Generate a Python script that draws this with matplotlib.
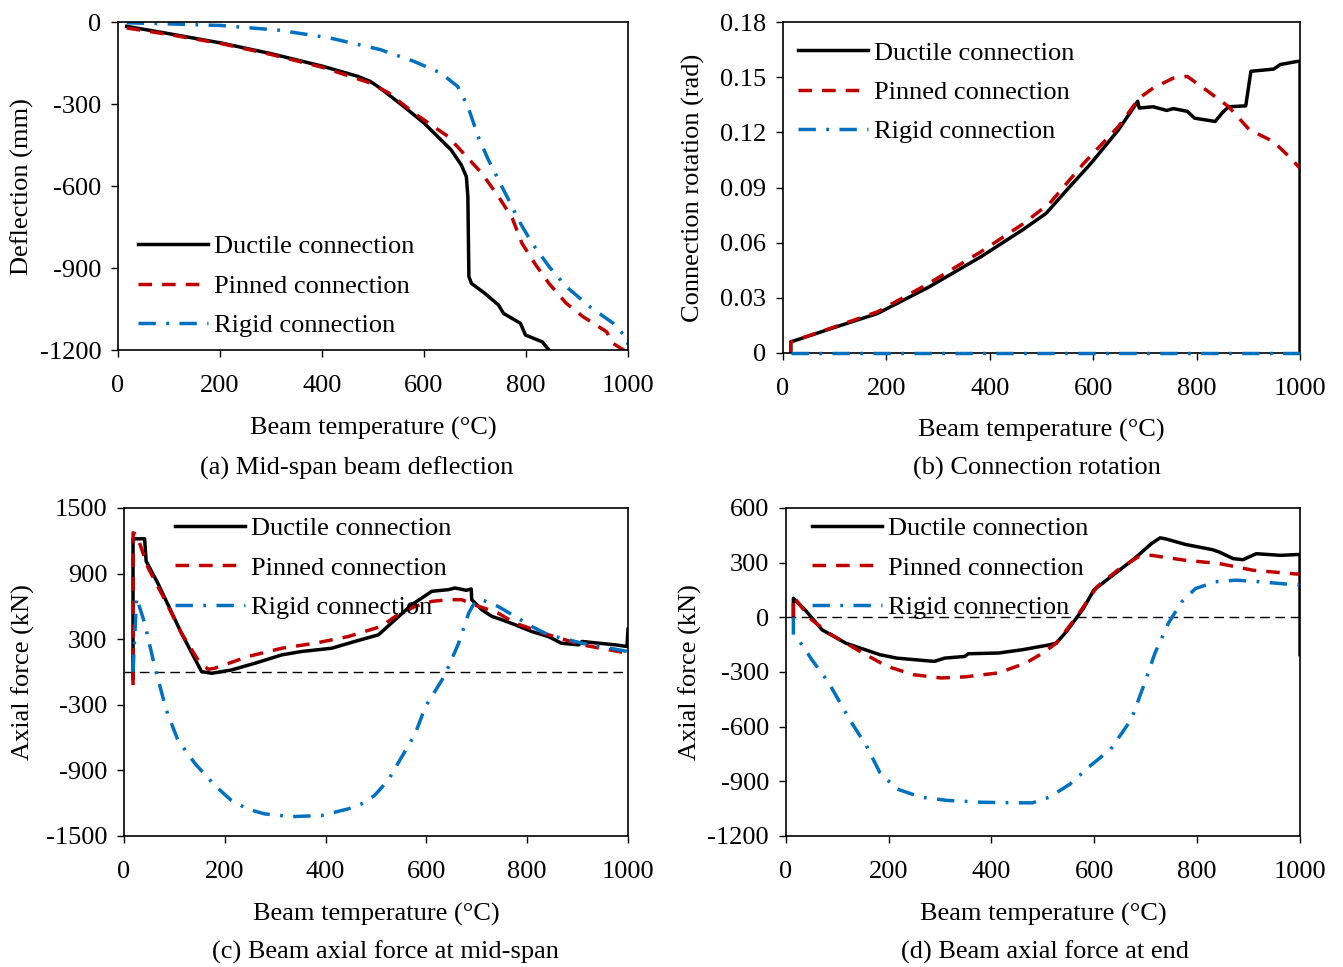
import matplotlib
matplotlib.use("Agg")
import matplotlib.pyplot as plt

plt.rcParams['font.family'] = ['Liberation Serif', 'DejaVu Serif']
plt.rcParams['font.size'] = 19
plt.rcParams['axes.unicode_minus'] = False

LABELS = ["Ductile connection", "Pinned connection", "Rigid connection"]
BLACK, RED, BLUE = "#000000", "#C00000", "#0070C0"

# (a) mid-span deflection (mm)
a_duct_T = [17, 100, 202, 300, 401, 470, 494, 514, 560, 600, 653, 673, 683, 686, 688, 693, 719, 746, 756, 789, 799, 832, 845]
a_duct_d = [-15, -42, -76, -115, -161, -198, -216, -241, -308, -369, -467, -522, -565, -638, -931, -956, -992, -1035, -1066, -1102, -1145, -1170, -1200]
a_pin_T = [17, 100, 202, 300, 401, 494, 530, 580, 647, 680, 713, 746, 773, 792, 819, 845, 879, 912, 958, 971, 1000]
a_pin_d = [-21, -45, -78, -118, -165, -222, -258, -332, -418, -485, -552, -638, -717, -809, -888, -956, -1029, -1078, -1133, -1176, -1210]
a_rig_T = [17, 100, 202, 315, 414, 514, 580, 633, 666, 686, 706, 726, 746, 766, 789, 812, 845, 879, 925, 971, 998, 1000]
a_rig_d = [-2, -6, -12, -29, -57, -100, -143, -186, -235, -308, -418, -503, -577, -650, -736, -809, -894, -968, -1041, -1102, -1157, -1180]

# (b) connection rotation (rad)
b_duct_T = [15, 15, 103, 183, 283, 383, 463, 509, 549, 596, 649, 682, 686, 689, 716, 742, 755, 782, 796, 836, 849, 862, 895, 905, 949, 962, 995, 1000, 1000]
b_duct_r = [0.0, 0.006, 0.0142, 0.0215, 0.036, 0.0524, 0.0669, 0.076, 0.0887, 0.1033, 0.1215, 0.1351, 0.137, 0.1333, 0.134, 0.132, 0.133, 0.1315, 0.1278, 0.126, 0.1305, 0.134, 0.1345, 0.1533, 0.1545, 0.157, 0.1587, 0.1587, 0.0]
b_pin_T = [15, 15, 103, 183, 283, 383, 463, 516, 582, 649, 689, 716, 755, 782, 822, 862, 902, 949, 982, 1000]
b_pin_r = [0.0, 0.006, 0.0145, 0.0224, 0.038, 0.0551, 0.0700, 0.0815, 0.1033, 0.1233, 0.1387, 0.1442, 0.1496, 0.1505, 0.1424, 0.134, 0.1215, 0.115, 0.106, 0.1005]
b_rig_T = [15, 1000]
b_rig_r = [0.0, 0.0]

# (c) beam axial force at mid-span (kN)
c_duct_T = [18, 18, 41, 44, 67, 114, 154, 174, 213, 260, 313, 352, 412, 458, 505, 538, 571, 611, 644, 657, 679, 689, 690, 710, 730, 750, 776, 809, 842, 868, 902, 909, 942, 975, 998, 1000]
c_duct_F = [-60, 1218, 1218, 1013, 814, 355, 3, -12, 18, 80, 156, 187, 217, 279, 340, 478, 615, 738, 753, 768, 747, 759, 661, 569, 508, 477, 432, 370, 324, 263, 248, 279, 263, 248, 233, 390]
c_pin_T = [18, 18, 25, 48, 81, 114, 147, 167, 180, 246, 313, 379, 445, 510, 543, 578, 611, 644, 670, 695, 742, 776, 842, 909, 1000]
c_pin_F = [-120, 1273, 1258, 952, 661, 355, 110, 24, 34, 141, 217, 263, 324, 416, 523, 600, 646, 661, 661, 615, 539, 447, 340, 248, 171]
c_rig_T = [18, 25, 41, 61, 84, 107, 141, 180, 213, 246, 279, 332, 392, 445, 475, 497, 524, 551, 578, 598, 631, 644, 664, 684, 697, 710, 742, 776, 809, 842, 909, 1000]
c_rig_F = [0, 680, 447, 49, -349, -624, -838, -1037, -1175, -1255, -1298, -1323, -1313, -1252, -1200, -1130, -992, -778, -563, -318, -73, 49, 263, 539, 646, 661, 600, 508, 416, 340, 263, 187]

# (d) beam axial force at end (kN)
d_duct_T = [15, 15, 38, 71, 117, 183, 216, 289, 309, 348, 355, 414, 460, 513, 526, 546, 579, 599, 632, 678, 711, 728, 738, 777, 830, 843, 870, 889, 915, 962, 1000, 1000]
d_duct_F = [4, 104, 40, -69, -142, -205, -224, -242, -224, -215, -200, -196, -178, -151, -142, -78, 49, 149, 222, 322, 404, 436, 431, 400, 371, 358, 322, 316, 349, 340, 345, -205]
d_pin_T = [15, 15, 51, 84, 150, 197, 249, 302, 348, 414, 467, 500, 526, 566, 605, 645, 685, 711, 777, 843, 909, 1000]
d_pin_F = [4, 113, -15, -87, -196, -269, -315, -333, -327, -305, -251, -196, -142, 4, 167, 258, 331, 340, 313, 295, 258, 236]
d_rig_T = [15, 15, 32, 51, 84, 124, 157, 183, 216, 263, 315, 381, 447, 480, 513, 553, 592, 632, 672, 698, 718, 744, 770, 797, 836, 876, 922, 1000]
d_rig_F = [0, -96, -151, -233, -360, -560, -705, -851, -942, -987, -1005, -1015, -1018, -1018, -987, -915, -815, -724, -560, -360, -196, -33, 85, 158, 195, 204, 195, 176]

fig = plt.figure(figsize=(13.43, 9.67), dpi=100)

axes_pos = {
    'a': [0.0879, 0.638, 0.3797, 0.339],
    'b': [0.583, 0.635, 0.385, 0.342],
    'c': [0.0923, 0.1355, 0.3753, 0.3392],
    'd': [0.585, 0.1355, 0.383, 0.3392],
}


def draw(ax, duct, pin, rig):
    ax.plot(duct[0], duct[1], color=BLACK, lw=2.5, label=LABELS[0])
    ax.plot(pin[0], pin[1], color=RED, lw=2.5, ls=(0, (3.9, 2.9)), label=LABELS[1])
    r, = ax.plot(rig[0], rig[1], color=BLUE, lw=2.5, ls=(0, (5.0, 3.0, 0.8, 3.0)), label=LABELS[2])
    ax.set_xlim(0, 1000)
    ax.set_xticks(range(0, 1001, 200))
    ax.set_xlabel("Beam temperature (\u00b0C)", labelpad=14)
    ax.tick_params(direction='out', length=5, width=1, top=False, right=False, pad=7)
    ax.tick_params(axis='x', pad=13)
    for s in ax.spines.values():
        s.set_linewidth(1.2)
    return r


def legend(ax, x, y):
    ax.legend(loc='upper left', bbox_to_anchor=(x, y), frameon=False, borderpad=0,
              borderaxespad=0, handlelength=2.65, handletextpad=0.25, labelspacing=0.6)


ax = fig.add_axes(axes_pos['a'])
draw(ax, (a_duct_T, a_duct_d), (a_pin_T, a_pin_d), (a_rig_T, a_rig_d))
ax.set_ylim(-1200, 0)
ax.set_yticks([0, -300, -600, -900, -1200])
ax.set_ylabel("Deflection (mm)")
legend(ax, 0.039, 0.351)

ax = fig.add_axes(axes_pos['b'])
rig_line = draw(ax, (b_duct_T, b_duct_r), (b_pin_T, b_pin_r), (b_rig_T, b_rig_r))
rig_line.set_clip_on(False)
rig_line.set_zorder(3)
ax.set_ylim(0, 0.18)
rt = [0, 0.03, 0.06, 0.09, 0.12, 0.15, 0.18]
ax.set_yticks(rt)
ax.set_yticklabels(["0"] + ["%.2f" % v for v in rt[1:]])
ax.set_ylabel("Connection rotation (rad)", labelpad=11)
legend(ax, 0.029, 0.943)

ax = fig.add_axes(axes_pos['c'])
ax.axhline(0, color='black', lw=1, ls=(0, (7, 4)))
draw(ax, (c_duct_T, c_duct_F), (c_pin_T, c_pin_F), (c_rig_T, c_rig_F))
ax.set_ylim(-1500, 1500)
ax.set_yticks(range(-1500, 1501, 600))
ax.set_ylabel("Axial force (kN)", labelpad=8)
legend(ax, 0.101, 0.973)

ax = fig.add_axes(axes_pos['d'])
ax.axhline(0, color='black', lw=1, ls=(0, (7, 4)))
draw(ax, (d_duct_T, d_duct_F), (d_pin_T, d_pin_F), (d_rig_T, d_rig_F))
ax.set_ylim(-1200, 600)
ax.set_yticks(range(-1200, 601, 300))
ax.set_ylabel("Axial force (kN)")
legend(ax, 0.051, 0.973)

fig.text(357 / 1343, 1 - 468 / 967, "(a) Mid-span beam deflection", ha='center', va='center')
fig.text(1037 / 1343, 1 - 468 / 967, "(b) Connection rotation", ha='center', va='center')
fig.text(385 / 1343, 1 - 952 / 967, "(c) Beam axial force at mid-span", ha='center', va='center')
fig.text(1045 / 1343, 1 - 952 / 967, "(d) Beam axial force at end", ha='center', va='center')

fig.savefig("out.png", dpi=100)
